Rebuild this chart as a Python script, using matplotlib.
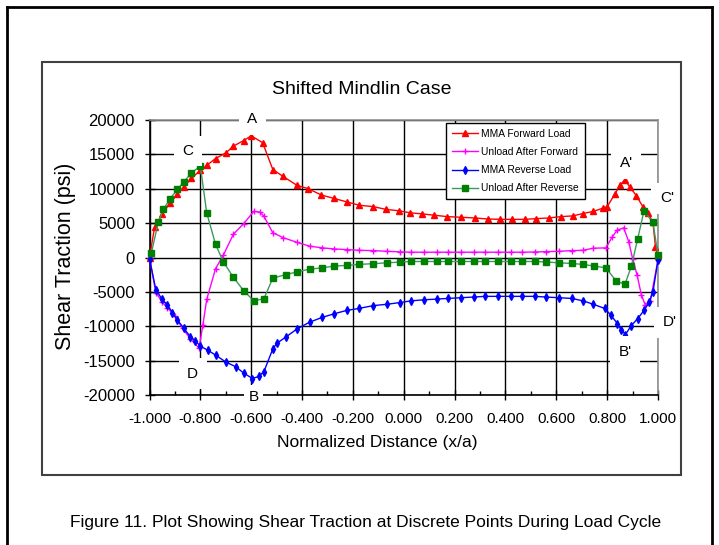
import matplotlib
matplotlib.use("Agg")
import matplotlib.pyplot as plt
from matplotlib.lines import Line2D
from matplotlib.patches import Rectangle
from matplotlib.ticker import MultipleLocator, FuncFormatter

plt.rcParams['font.family'] = ['Liberation Sans', 'DejaVu Sans']

# ---------------- data ----------------
fwd_x = [-1.0, -0.98, -0.95, -0.92, -0.89, -0.865, -0.835, -0.80, -0.775, -0.74, -0.70, -0.67,
         -0.63, -0.60, -0.555, -0.515, -0.475, -0.42, -0.375, -0.325, -0.275, -0.225, -0.175,
         -0.12, -0.07, -0.02, 0.025, 0.07, 0.12, 0.17, 0.225, 0.28, 0.33, 0.38, 0.425, 0.475,
         0.52, 0.57, 0.62, 0.665, 0.705, 0.745, 0.785, 0.80, 0.83, 0.85, 0.87, 0.89, 0.915,
         0.94, 0.96, 0.98, 0.99, 1.0]
fwd_y = [0, 4400, 6300, 7900, 9200, 10300, 11500, 12700, 13400, 14400, 15200, 16200,
         17000, 17700, 16700, 12800, 11800, 10500, 10000, 9100, 8600, 8100, 7600,
         7400, 7000, 6800, 6500, 6350, 6150, 5950, 5850, 5750, 5600, 5550, 5550, 5550,
         5650, 5750, 5950, 6050, 6400, 6700, 7200, 7400, 9200, 10500, 11300, 10200, 9000,
         7400, 6500, 5100, 1600, 200]

unl_fwd_x = [-1.0, -0.975, -0.95, -0.93, -0.90, -0.87, -0.84, -0.805, -0.79, -0.775, -0.74,
             -0.71, -0.67, -0.63, -0.59, -0.565, -0.55, -0.515, -0.475, -0.42, -0.37, -0.32,
             -0.275, -0.225, -0.175, -0.12, -0.065, -0.015, 0.03, 0.08, 0.13, 0.175, 0.225,
             0.275, 0.32, 0.37, 0.42, 0.465, 0.515, 0.56, 0.61, 0.66, 0.705, 0.745, 0.795,
             0.82, 0.84, 0.865, 0.885, 0.90, 0.918, 0.935, 0.95, 0.97, 1.0]
unl_fwd_y = [0, -5100, -6500, -7300, -8500, -10300, -11800, -13200, -9800, -6100, -1600,
             300, 3400, 4900, 6700, 6600, 6000, 3600, 2900, 2200, 1650, 1400,
             1250, 1150, 1050, 1000, 900, 820, 770, 770, 770, 770, 770,
             770, 770, 770, 770, 770, 800, 850, 900, 1000, 1050, 1350, 1400,
             3000, 4000, 4300, 2300, -150, -2600, -5500, -6900, -6300, -300]

rev_x = [-1.0, -0.975, -0.95, -0.93, -0.91, -0.89, -0.865, -0.84, -0.82, -0.80, -0.77, -0.74,
         -0.70, -0.66, -0.63, -0.595, -0.57, -0.55, -0.515, -0.50, -0.465, -0.42, -0.37,
         -0.32, -0.275, -0.225, -0.175, -0.12, -0.065, -0.015, 0.03, 0.08, 0.13, 0.175,
         0.225, 0.275, 0.32, 0.37, 0.42, 0.465, 0.515, 0.56, 0.61, 0.66, 0.705, 0.745,
         0.79, 0.815, 0.84, 0.855, 0.872, 0.895, 0.92, 0.945, 0.965, 0.98, 1.0]
rev_y = [-200, -4700, -6100, -6900, -8000, -9100, -10300, -11500, -12100, -12900, -13500, -14200,
         -15200, -15900, -16800, -17600, -17300, -16600, -13300, -12500, -11600, -10400, -9400,
         -8700, -8200, -7700, -7400, -7000, -6800, -6550, -6300, -6150, -6050, -5950,
         -5850, -5750, -5650, -5650, -5650, -5650, -5650, -5750, -5850, -5950, -6300, -6800,
         -7400, -8400, -9600, -10500, -11200, -9900, -8900, -7700, -6500, -5000, -400]

unl_rev_x = [-0.993, -0.965, -0.945, -0.92, -0.89, -0.865, -0.835, -0.80, -0.775, -0.74, -0.71,
             -0.67, -0.63, -0.59, -0.55, -0.515, -0.465, -0.42, -0.37, -0.32, -0.275, -0.225,
             -0.175, -0.12, -0.065, -0.015, 0.03, 0.08, 0.13, 0.175, 0.225, 0.275, 0.32, 0.37,
             0.42, 0.465, 0.515, 0.56, 0.61, 0.66, 0.705, 0.75, 0.795, 0.835, 0.87, 0.895,
             0.92, 0.945, 0.98, 1.0]
unl_rev_y = [600, 5200, 7000, 8500, 9900, 11000, 12300, 13300, 6500, 1900, -600,
             -2900, -4800, -6300, -6000, -3000, -2500, -2100, -1700, -1500, -1250, -1150,
             -1000, -900, -770, -670, -580, -580, -580, -580, -580, -580, -580, -580,
             -580, -580, -580, -650, -770, -870, -1000, -1250, -1500, -3400, -3900, -1300,
             2700, 6800, 5100, 400]

series_labels = ["MMA Forward Load", "Unload After Forward", "MMA Reverse Load", "Unload After Reverse"]
x_ticks = [-1.0, -0.8, -0.6, -0.4, -0.2, 0.0, 0.2, 0.4, 0.6, 0.8, 1.0]
y_ticks = [-20000, -15000, -10000, -5000, 0, 5000, 10000, 15000, 20000]

point_labels = ["A", "C", "D", "B", "A'", "C'", "D'", "B'"]
point_label_x = [-0.595, -0.85, -0.83, -0.59, 0.875, 1.035, 1.045, 0.87]
point_label_y = [20100, 15500, -16900, -20250, 13700, 8600, -9400, -13700]

# ---------------- figure ----------------
W, H = 719, 545
fig = plt.figure(figsize=(W / 100, H / 100), dpi=100)
fig.patch.set_facecolor('white')

def fx(px):
    return px / W

def fy(py):
    return 1 - py / H

# outer frame (left, top, right)
fig.add_artist(Line2D([fx(7), fx(7)], [fy(7), 0], color='black', lw=2, transform=fig.transFigure))
fig.add_artist(Line2D([fx(7), fx(712)], [fy(7), fy(7)], color='black', lw=2, transform=fig.transFigure))
fig.add_artist(Line2D([fx(712), fx(712)], [fy(7), 0], color='black', lw=2, transform=fig.transFigure))
# inner chart frame
fig.add_artist(Rectangle((fx(42), fy(475)), fx(681) - fx(42), fy(62) - fy(475), fill=False,
                         edgecolor='#404040', lw=1.5, transform=fig.transFigure))

ax = fig.add_axes([fx(149.5), fy(395), fx(658) - fx(149.5), fy(120) - fy(395)])
ax.set_xlim(-1, 1)
ax.set_ylim(-20000, 20000)
ax.set_xticks(x_ticks)
ax.set_yticks(y_ticks)
ax.xaxis.set_minor_locator(MultipleLocator(0.1))
ax.xaxis.set_major_formatter(FuncFormatter(lambda v, p: f"{v:.3f}"))
ax.yaxis.set_major_formatter(FuncFormatter(lambda v, p: f"{int(round(v))}"))
ax.grid(True, which='major', color='black', lw=1.0)
ax.set_axisbelow(True)
ax.tick_params(which='major', direction='inout', length=7, width=1)
ax.tick_params(axis='x', which='major', labelsize=11, pad=9)
ax.tick_params(axis='y', which='major', labelsize=12, pad=7)
ax.tick_params(axis='x', which='minor', direction='in', length=3, width=1)
for s in ['left', 'bottom']:
    ax.spines[s].set_color('black')
    ax.spines[s].set_linewidth(1.2)
for s in ['top', 'right']:
    ax.spines[s].set_color('#909090')
    ax.spines[s].set_linewidth(1.2)

ms = 4
l1, = ax.plot(fwd_x, fwd_y, color='#FF0000', lw=1, marker='^', ms=ms, clip_on=False, zorder=3)
l2, = ax.plot(unl_fwd_x, unl_fwd_y, color='#FF00FF', lw=1, marker='+', ms=ms + 1, mew=1, clip_on=False, zorder=3)
l3, = ax.plot(rev_x, rev_y, color='#0000FF', lw=1, marker='d', ms=ms, clip_on=False, zorder=3)
l4, = ax.plot(unl_rev_x, unl_rev_y, color='#3C9A60', lw=1, marker='s', ms=ms, mfc='#008000', mec='#008000',
              clip_on=False, zorder=3)

for t, x, y in zip(point_labels, point_label_x, point_label_y):
    pad = 0.3 if t == "B" else 0.55
    ax.text(x, y, t, fontsize=11, ha='center', va='center', clip_on=False, zorder=6,
            bbox=dict(boxstyle=f'square,pad={pad}', fc='white', ec='none'))

leg = fig.legend([l1, l2, l3, l4], series_labels, loc='upper left',
                 bbox_to_anchor=(fx(446), fy(123)), bbox_transform=fig.transFigure,
                 fontsize=7.4, frameon=True, fancybox=False, framealpha=1, edgecolor='black',
                 handlelength=2.6, labelspacing=0.8, borderpad=0.55, borderaxespad=0, handletextpad=0.3)
leg.get_frame().set_linewidth(1.0)

fig.text(fx(362), fy(89), "Shifted Mindlin Case", fontsize=14, ha='center', va='center')
fig.text(fx(66), fy(256), "Shear Traction (psi)", fontsize=15.5, ha='center', va='center', rotation=90)
fig.text(fx(377), fy(443), "Normalized Distance (x/a)", fontsize=12.5, ha='center', va='center')
fig.text(fx(366), fy(522), "Figure 11. Plot Showing Shear Traction at Discrete Points During Load Cycle",
         fontsize=12.5, ha='center', va='center')

fig.savefig("out.png", dpi=100)
